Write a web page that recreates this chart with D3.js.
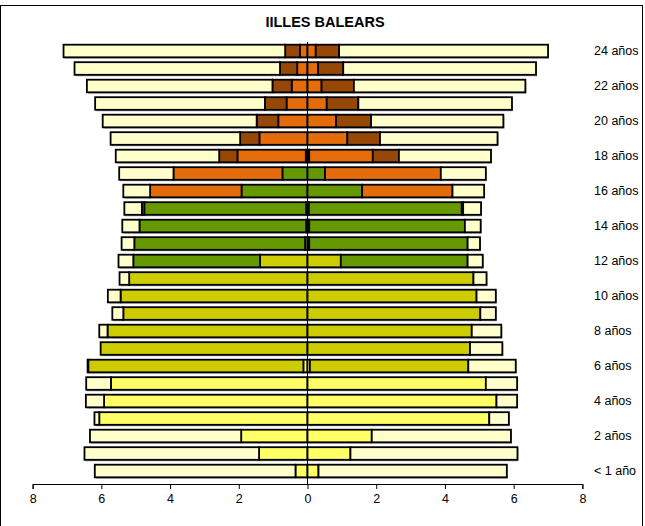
<!DOCTYPE html>
<html>
<head>
<meta charset="utf-8">
<script src="https://cdn.jsdelivr.net/npm/d3@7"></script>
<style>
  body { margin: 0; background: #fff; }
  svg { display: block; font-family: "Liberation Sans", Arial, sans-serif; }
</style>
</head>
<body>
<svg id="chart" width="645" height="526"></svg>
<script>
// ages 0..24 (index = age)
var ages = d3.range(0, 25);
var keys = ["infantil", "primaria", "eso", "bachfp", "univ", "noesc"];
var colors = {
    infantil: "#FFFF66",
    primaria: "#CCCC00",
    eso: "#669900",
    bachfp: "#E46C0A",
    univ: "#984806",
    noesc: "#FFFFCC"
};

// left side
var leftInfantil = [0.35,1.41,1.93,6.06,5.92,5.72,0.12,0,0,0,0,0,0,0,0,0,0,0,0,0,0,0,0,0,0];
var leftPrimaria = [0,0,0,0,0,0,6.26,6.02,5.82,5.36,5.44,5.19,1.38,0.07,0.04,0.04,0,0,0,0,0,0,0,0,0];
var leftEso      = [0,0,0,0,0,0,0,0,0,0,0,0,3.69,4.97,4.85,4.71,1.92,0.73,0.05,0,0,0,0,0,0];
var leftBachFP   = [0,0,0,0,0,0,0,0,0,0,0,0,0,0,0,0.07,2.66,3.17,1.99,1.40,0.85,0.61,0.46,0.30,0.22];
var leftUniv     = [0,0,0,0,0,0,0,0,0,0,0,0,0,0,0,0,0,0,0.53,0.56,0.63,0.63,0.56,0.50,0.43];
var leftNoEsc    = [5.84,5.08,4.40,0.14,0.53,0.72,0.02,0,0.24,0.32,0.37,0.28,0.43,0.37,0.50,0.51,0.78,1.58,3.01,3.77,4.48,4.94,5.40,5.98,6.45];

// right side
var rightInfantil = [0.32,1.25,1.87,5.29,5.50,5.19,0.07,0,0,0,0,0,0,0,0,0,0,0,0,0,0,0,0,0,0];
var rightPrimaria = [0,0,0,0,0,0,4.61,4.73,4.78,5.03,4.92,4.83,0.97,0.05,0.05,0.04,0,0,0,0,0,0,0,0,0];
var rightEso      = [0,0,0,0,0,0,0,0,0,0,0,0,3.69,4.61,4.53,4.45,1.59,0.51,0.05,0,0,0,0,0,0];
var rightBachFP   = [0,0,0,0,0,0,0,0,0,0,0,0,0,0,0,0.04,2.63,3.37,1.85,1.16,0.83,0.56,0.41,0.31,0.24];
var rightUniv     = [0,0,0,0,0,0,0,0,0,0,0,0,0,0,0,0,0,0,0.76,0.95,1.02,0.92,0.94,0.73,0.68];
var rightNoEsc    = [5.48,4.86,4.05,0.57,0.60,0.91,1.38,0.94,0.86,0.45,0.56,0.38,0.44,0.36,0.46,0.52,0.92,1.31,2.68,3.42,3.85,4.47,4.99,5.61,6.08];

var xTicks = [-8, -6, -4, -2, 0, 2, 4, 6, 8];
var labelAges = [24, 22, 20, 18, 16, 14, 12, 10, 8, 6, 4, 2, 0];
function ageLabel(a) { return a === 0 ? "< 1 año" : a + " años"; }

function buildRows(inf, pri, eso, bach, uni, noe) {
    return ages.map(function(a) {
        return { age: a, infantil: inf[a], primaria: pri[a], eso: eso[a],
                 bachfp: bach[a], univ: uni[a], noesc: noe[a] };
    });
}
var leftRows = buildRows(leftInfantil, leftPrimaria, leftEso, leftBachFP, leftUniv, leftNoEsc);
var rightRows = buildRows(rightInfantil, rightPrimaria, rightEso, rightBachFP, rightUniv, rightNoEsc);

var svg = d3.select("#chart");

// outer frame
svg.append("rect")
    .attr("x", 0.5).attr("y", 5.5)
    .attr("width", 642).attr("height", 540)
    .attr("fill", "none").attr("stroke", "#000").attr("stroke-width", 1);

var x = d3.scaleLinear().domain([-8, 8]).range([32.6, 582.4]);
var y = d3.scaleBand()
    .domain(ages.slice().reverse())
    .range([42.25, 479.75])
    .paddingInner(0.28)
    .paddingOuter(0.14);

svg.append("text")
    .attr("x", 325).attr("y", 27)
    .attr("text-anchor", "middle")
    .style("font-size", "14.5px").style("font-weight", "bold")
    .text("IILLES BALEARS");

var stack = d3.stack().keys(keys);

function drawSide(rows, sign) {
    var series = stack(rows);
    var g = svg.append("g");
    // shadow
    g.selectAll("rect.shadow")
        .data(rows)
        .enter().append("rect")
        .attr("class", "shadow")
        .attr("x", function(d) {
            var tot = d3.sum(keys, function(k) { return d[k]; });
            return Math.min(x(0), x(sign * tot)) + 1;
        })
        .attr("y", function(d) { return y(d.age) + 1.5; })
        .attr("width", function(d) {
            var tot = d3.sum(keys, function(k) { return d[k]; });
            return Math.abs(x(sign * tot) - x(0));
        })
        .attr("height", y.bandwidth())
        .attr("fill", "#b0b0b0");

    series.forEach(function(s) {
        g.selectAll("rect." + s.key)
            .data(s.filter(function(d) { return d[1] - d[0] > 0; }))
            .enter().append("rect")
            .attr("class", s.key)
            .attr("x", function(d) { return Math.min(x(sign * d[0]), x(sign * d[1])); })
            .attr("y", function(d) { return y(d.data.age); })
            .attr("width", function(d) { return Math.abs(x(sign * d[1]) - x(sign * d[0])); })
            .attr("height", y.bandwidth())
            .attr("fill", colors[s.key])
            .attr("stroke", "#000")
            .attr("stroke-width", 1.8);
    });
}

drawSide(leftRows, -1);
drawSide(rightRows, 1);

// center line
svg.append("line")
    .attr("x1", x(0)).attr("x2", x(0))
    .attr("y1", 42).attr("y2", 484)
    .attr("stroke", "#000").attr("stroke-width", 1);

// bottom axis
var xAxis = d3.axisBottom(x)
    .tickValues(xTicks)
    .tickFormat(function(d) { return Math.abs(d); })
    .tickSize(5)
    .tickSizeOuter(5);
var gx = svg.append("g")
    .attr("transform", "translate(0,484)")
    .call(xAxis);
gx.selectAll("text").style("font-size", "12.5px").attr("fill", "#000").attr("dy", "0.9em");
gx.selectAll("line, path").attr("stroke", "#000");

// age labels on the right
var yAxis = d3.axisRight(y)
    .tickValues(labelAges)
    .tickFormat(ageLabel)
    .tickSize(0)
    .tickPadding(3);
var gy = svg.append("g")
    .attr("transform", "translate(591,0)")
    .call(yAxis);
gy.select(".domain").remove();
gy.selectAll("text").style("font-size", "12.5px").attr("fill", "#000");
</script>
</body>
</html>
